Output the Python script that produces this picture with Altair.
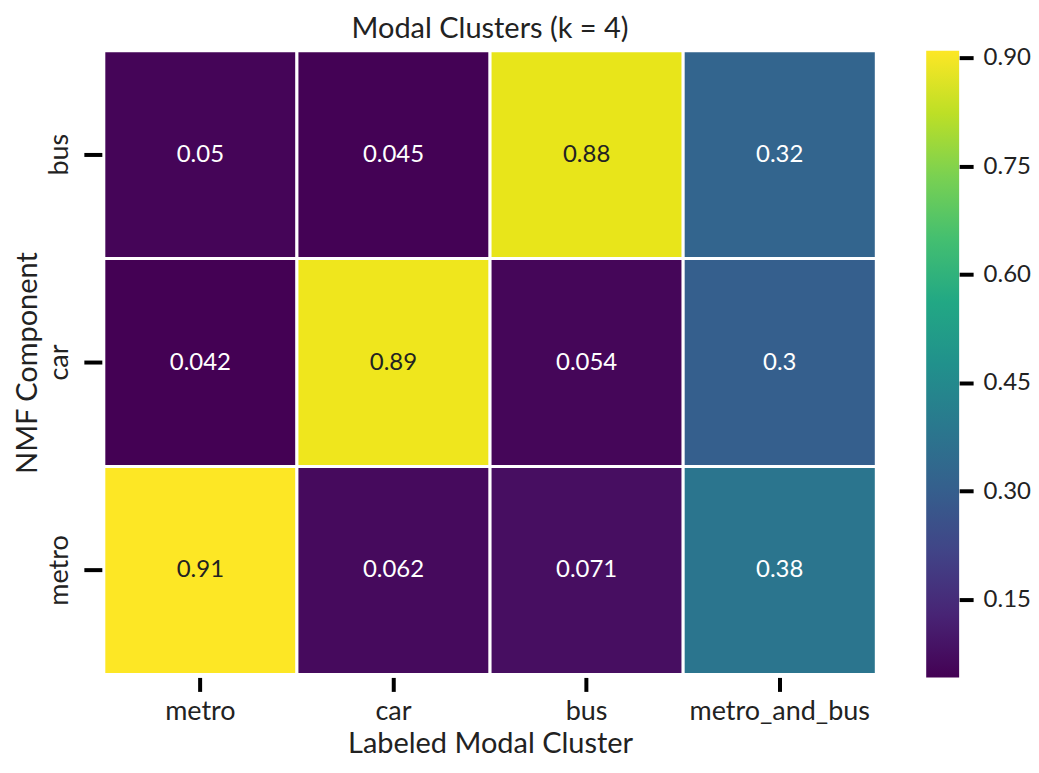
import altair as alt
import pandas as pd

columns = ["metro", "car", "bus", "metro_and_bus"]
rows = ["bus", "car", "metro"]
values_bus = [0.05, 0.045, 0.88, 0.32]
values_car = [0.042, 0.89, 0.054, 0.3]
values_metro = [0.91, 0.062, 0.071, 0.38]
colorbar_ticks = [0.15, 0.30, 0.45, 0.60, 0.75, 0.90]

FONT = "Lato"

records = []
for r, vals in zip(rows, [values_bus, values_car, values_metro]):
    for c, v in zip(columns, vals):
        records.append({"component": r, "cluster": c, "value": v, "label": f"{v:g}"})
df = pd.DataFrame(records)

vmin = float(df["value"].min())
vmax = float(df["value"].max())
color_scale = alt.Scale(scheme="viridis", domain=[vmin, vmax])

base = alt.Chart(df).encode(
    x=alt.X("cluster:N", sort=columns, title="Labeled Modal Cluster",
            axis=alt.Axis(labelAngle=0, domain=False, tickSize=14, tickWidth=4,
                          tickColor="black", offset=3, labelPadding=7, labelLimit=0,
                          labelFontSize=27, titleFontSize=29, titlePadding=5,
                          labelFont=FONT, titleFont=FONT, labelColor="#222",
                          titleColor="#222", titleFontWeight="normal")),
    y=alt.Y("component:N", sort=rows, title="NMF Component",
            axis=alt.Axis(labelAngle=-90, domain=False, tickSize=18, tickWidth=4,
                          tickColor="black", offset=2, labelPadding=10, labelLimit=0,
                          labelFontSize=27, titleFontSize=29, titlePadding=3,
                          labelFont=FONT, titleFont=FONT, labelColor="#222",
                          titleColor="#222", titleFontWeight="normal")),
)

rects = base.mark_rect(stroke="white", strokeWidth=3).encode(
    color=alt.Color("value:Q", scale=color_scale, legend=None)
)
texts = base.mark_text(fontSize=24, font=FONT).encode(
    text="label:N",
    color=alt.condition(alt.datum.value > 0.6, alt.value("#222222"), alt.value("white")),
)
heat = (rects + texts).properties(
    width=774, height=625,
    title=alt.TitleParams("Modal Clusters (k = 4)", fontSize=29, font=FONT,
                          fontWeight="normal", color="#222", offset=5, anchor="middle"),
)

cb_df = pd.DataFrame({"lo": [vmin], "hi": [vmax]})
viridis_stops = ["#440154", "#482475", "#414487", "#355f8d", "#2a788e", "#21918c",
                 "#22a884", "#44bf70", "#7ad151", "#bddf26", "#fde725"]
gradient = alt.Gradient(
    gradient="linear", x1=0, y1=1, x2=0, y2=0,
    stops=[alt.GradientStop(color=c, offset=i / (len(viridis_stops) - 1))
           for i, c in enumerate(viridis_stops)],
)
colorbar = alt.Chart(cb_df).mark_rect(color=gradient).encode(
    x=alt.value(0), x2=alt.value(33),
    y=alt.Y("lo:Q", scale=alt.Scale(domain=[vmin, vmax], nice=False, zero=False),
            axis=alt.Axis(orient="right", values=colorbar_ticks, format=".2f",
                          domain=False, grid=False, tickSize=14, tickWidth=4,
                          tickColor="black", labelPadding=10, labelFontSize=24,
                          labelFont=FONT, labelColor="#222", title=None)),
    y2="hi:Q",
).properties(width=33, height=628)

chart = alt.hconcat(heat, colorbar, spacing=48).configure_view(stroke=None).properties(
    padding={"left": 5, "top": 6, "right": 0, "bottom": 0}
)

chart.save("out.html", embed_options={"renderer": "svg", "actions": False})
